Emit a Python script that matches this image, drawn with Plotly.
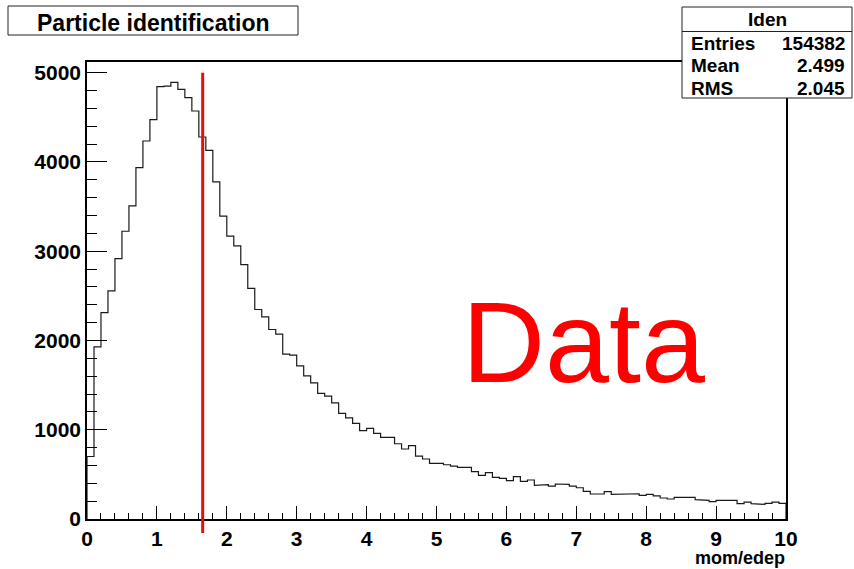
import numpy as np
import plotly.graph_objects as go

# Histogram "Iden": 100 bins of mom/edep from 0 to 10
bin_lo, bin_hi, n_bins = 0.0, 10.0, 100
counts = [
    700, 1929, 2313, 2556, 2918, 3224, 3508, 3937, 4235, 4474,
    4845, 4850, 4892, 4813, 4720, 4571, 4280, 4131, 3776, 3394,
    3170, 3060, 2849, 2584, 2347, 2265, 2123, 2071, 1847, 1836,
    1716, 1604, 1526, 1407, 1377, 1302, 1183, 1134, 1071, 989,
    1015, 959, 914, 914, 843, 784, 821, 705, 672, 623,
    623, 608, 593, 578, 578, 530, 489, 519, 467, 455,
    429, 474, 422, 437, 377, 384, 369, 392, 388, 369,
    350, 310, 280, 280, 306, 276, 283, 276, 283, 265,
    276, 258, 235, 224, 243, 243, 243, 216, 209, 194,
    209, 216, 209, 172, 190, 172, 164, 176, 190, 176,
]

# Stats box contents
hist_name = "Iden"
stat_labels = ["Entries", "Mean", "RMS"]
stat_values = ["154382", "2.499", "2.045"]

# Selection cut drawn as a vertical line
cut_value = 1.655
cut_top = 5000

title_text = "Particle identification"
x_title = "mom/edep"
big_label = "Data"

x_range = [bin_lo, bin_hi]
y_range = [0, 5120]

# Step outline of the histogram
edges = np.linspace(bin_lo, bin_hi, n_bins + 1)
xs = np.concatenate([[edges[0]], np.repeat(edges, 2)[1:-1], [edges[-1]]])
ys = np.concatenate([[0], np.repeat(counts, 2), [0]])

W, H = 854, 569
ML, MR, MT, MB = 87, 68, 62, 50
PW, PH = W - ML - MR, H - MT - MB


def px(x):
    return (x - ML) / PW


def py(y):
    return (H - MB - y) / PH


font_b = dict(family="Liberation Sans, Arial, sans-serif", size=19, color="black", weight="bold")

fig = go.Figure()
fig.add_trace(go.Scatter(
    x=xs, y=ys, mode="lines",
    line=dict(color="#1a1a1a", width=1.2),
    hoverinfo="skip", showlegend=False,
))

shapes = [
    # cut line
    dict(type="line", xref="paper", yref="paper",
         x0=(cut_value - x_range[0]) / (x_range[1] - x_range[0]),
         x1=(cut_value - x_range[0]) / (x_range[1] - x_range[0]),
         y0=py(533), y1=(cut_top - y_range[0]) / (y_range[1] - y_range[0]),
         line=dict(color="#e01010", width=3), layer="above"),
    # title box
    dict(type="rect", xref="paper", yref="paper",
         x0=px(8), x1=px(298), y0=py(35), y1=py(6),
         line=dict(color="#222", width=1), fillcolor="white", layer="above"),
    # stats box
    dict(type="rect", xref="paper", yref="paper",
         x0=px(682), x1=px(852), y0=py(98), y1=py(7),
         line=dict(color="#222", width=1), fillcolor="white", layer="above"),
    dict(type="line", xref="paper", yref="paper",
         x0=px(682), x1=px(852), y0=py(31.5), y1=py(31.5),
         line=dict(color="#222", width=1), layer="above"),
]

annotations = [
    dict(text=title_text, x=px(153), y=py(23), xanchor="center", yanchor="middle",
         font=dict(font_b, size=23)),
    dict(text=hist_name, x=px(767), y=py(19.5), xanchor="center", yanchor="middle",
         font=font_b),
    dict(text=big_label, x=px(583), y=py(342), xanchor="center", yanchor="middle",
         font=dict(family="Liberation Sans, Arial, sans-serif", size=115, color="#ff0000")),
    dict(text=x_title, x=px(787), y=py(558), xanchor="right", yanchor="middle",
         font=dict(font_b, size=18)),
]
row_y = [44, 66, 88]
for lab, val, yy in zip(stat_labels, stat_values, row_y):
    annotations.append(dict(text=lab, x=px(689), y=py(yy), xanchor="left", yanchor="middle",
                            font=font_b))
    annotations.append(dict(text=val, x=px(847), y=py(yy), xanchor="right", yanchor="middle",
                            font=font_b))
for a in annotations:
    a.update(xref="paper", yref="paper", showarrow=False)

axis_common = dict(
    showgrid=False, zeroline=False, showline=True, linecolor="black", linewidth=1.5,
    mirror=True, ticks="inside", tickcolor="black", tickwidth=1,
    tickfont=dict(font_b, size=21), automargin=False, fixedrange=True,
)

fig.update_layout(
    width=W, height=H,
    margin=dict(l=ML, r=MR, t=MT, b=MB),
    paper_bgcolor="white", plot_bgcolor="white",
    xaxis=dict(axis_common, range=x_range, tickmode="linear", tick0=0, dtick=1, ticklen=13,
               minor=dict(dtick=0.2, ticks="inside", ticklen=6, tickcolor="black")),
    yaxis=dict(axis_common, range=y_range, tickmode="linear", tick0=0, dtick=1000, ticklen=20,
               minor=dict(dtick=200, ticks="inside", ticklen=10, tickcolor="black")),
    shapes=shapes,
    annotations=annotations,
    showlegend=False,
)

fig.write_html("out.html")
